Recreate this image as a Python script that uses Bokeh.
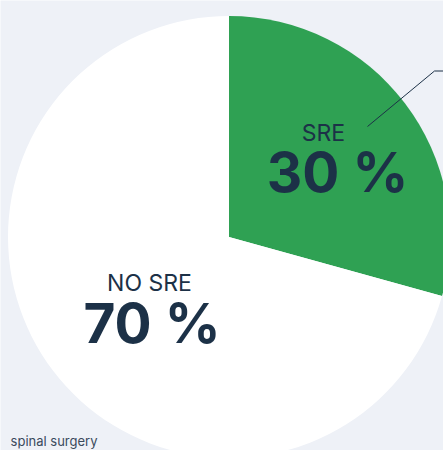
import math
from bokeh.plotting import figure
from bokeh.models import Range1d, ColumnDataSource
from bokeh.core.properties import value
from bokeh.embed import file_html
from bokeh.resources import INLINE

# Data
categories = ["SRE", "NO SRE"]
shares = [29.3, 70.7]          # slice sizes as drawn
pct_labels = ["30 %", "70 %"]  # labels as printed
colors = ["#2fa153", "#ffffff"]
footer = "spinal surgery"

BG = "#eef1f7"
TXT = "#1c3147"
R = 221
CX, CY = 228.5, 236.5
W, H = 443, 450

p = figure(width=W, height=H, output_backend="svg", toolbar_location=None,
           x_range=Range1d(-CX, W - CX), y_range=Range1d(CY - H, CY),
           min_border=0, background_fill_color=BG, border_fill_color=BG)
p.axis.visible = False
p.grid.visible = False
p.outline_line_color = None

# wedges: start at 12 o'clock, clockwise
total = sum(shares)
starts, ends = [], []
cur = math.pi / 2
for s in shares:
    sweep = 2 * math.pi * s / total
    starts.append(cur - sweep)
    ends.append(cur)
    cur -= sweep
src = ColumnDataSource(dict(start=starts, end=ends, color=colors, cat=categories))
p.wedge(x=0, y=0, radius=R, start_angle="start", end_angle="end",
        fill_color="color", line_color=None, source=src)

def ref(xr, yr):
    return xr - CX, CY - yr

# labels
x, y = ref(323, 132.8)
p.text(x=[x], y=[y], text=[categories[0]], text_align="center",
       text_baseline="alphabetic", text_font=value("Inter"), text_font_size="23px",
       text_color=TXT)
x, y = ref(337, 171)
p.text(x=[x], y=[y], text=[pct_labels[0]], text_align="center",
       text_baseline="alphabetic", text_font=value("Inter"), text_font_size="55px",
       text_font_style="bold", text_color=TXT)
x, y = ref(149, 282.5)
p.text(x=[x], y=[y], text=[categories[1]], text_align="center",
       text_baseline="alphabetic", text_font=value("Inter"), text_font_size="23px",
       text_color=TXT)
x, y = ref(151.5, 322)
p.text(x=[x], y=[y], text=[pct_labels[1]], text_align="center",
       text_baseline="alphabetic", text_font=value("Inter"), text_font_size="55px",
       text_font_style="bold", text_color=TXT)

# footer text at bottom-left
x, y = ref(97, 440)
p.text(x=[x], y=[y], text=[footer], text_align="right",
       text_baseline="alphabetic", text_font=value("Inter"), text_font_size="13px",
       text_color="#3a4a5c")

# leader line
lx, ly = [], []
for xr, yr in [(367, 126), (434, 70.5), (450, 70.5)]:
    a, b = ref(xr, yr)
    lx.append(a)
    ly.append(b)
p.line(x=lx, y=ly, line_color=TXT, line_width=1)

open("out.html", "w").write(file_html(p, INLINE))
